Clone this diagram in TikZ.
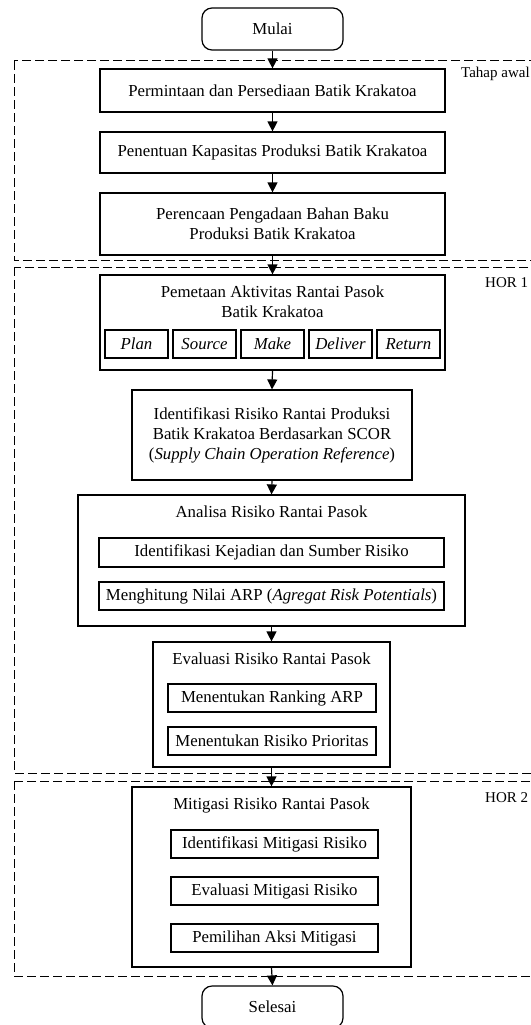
\documentclass[tikz,border=0pt]{standalone}
\usepackage{fontspec}
\setmainfont{Liberation Serif}
\usetikzlibrary{arrows.meta}
\begin{document}
\begin{tikzpicture}[x=1pt,y=-1pt,
  every node/.style={font=\fontsize{16.8}{20}\selectfont},
  box/.style={draw,line width=1.2pt,inner sep=0pt,align=center,fill=none},
  term/.style={box,rounded corners=10pt,minimum width=141pt,minimum height=42pt},
  sub/.style={box,minimum height=28pt},
  ttl/.style={inner sep=0pt,align=center},
  region/.style={draw,line width=1pt,dash pattern=on 9pt off 4pt},
  lbl/.style={inner sep=0pt,anchor=west,font=\fontsize{15}{18}\selectfont},
  flow/.style={line width=1.2pt,-{Triangle[length=10pt,width=10pt]}}]
\useasboundingbox (0,0) rectangle (530,1025);
% dashed regions
\draw[region] (14,61) rectangle (545,260);
\draw[region] (14,267) rectangle (545,773);
\draw[region] (14,781) rectangle (545,976);
\node[lbl] (lawal) at (461,74) {Tahap awal};
\node[lbl] (lhor1) at (485,283) {HOR 1};
\node[lbl] (lhor2) at (485,798) {HOR 2};
% terminals
\node[term] (mulai) at (272.5,29) {Mulai};
\node[term] (sel) at (272.5,1007) {Selesai};
% first stage
\node[box,minimum width=345pt,minimum height=43pt] (b1) at (272.5,90.5) {Permintaan dan Persediaan Batik Krakatoa};
\node[box,minimum width=345pt,minimum height=41pt] (b2) at (272.5,152.5) {Penentuan Kapasitas Produksi Batik Krakatoa};
\node[box,minimum width=345pt,minimum height=62pt] (b3) at (272.5,224) {Perencaan Pengadaan Bahan Baku\\Produksi Batik Krakatoa};
% pemetaan
\node[box,minimum width=345pt,minimum height=95pt] (pem) at (272.5,322.5) {};
\node[ttl] (pemt) at (272.5,302) {Pemetaan Aktivitas Rantai Pasok\\Batik Krakatoa};
\node[sub,minimum width=63pt] (plan) at (136.5,344) {\itshape Plan};
\node[sub,minimum width=63pt] (source) at (204.5,344) {\itshape Source};
\node[sub,minimum width=63pt] (make) at (272.5,344) {\itshape Make};
\node[sub,minimum width=63pt] (deliver) at (340.5,344) {\itshape Deliver};
\node[sub,minimum width=63pt] (return) at (408.5,344) {\itshape Return};
% identifikasi
\node[box,minimum width=280pt,minimum height=90pt] (iden) at (272,435) {Identifikasi Risiko Rantai Produksi\\Batik Krakatoa Berdasarkan SCOR\\(\textit{Supply Chain Operation Reference})};
% analisa
\node[box,minimum width=387pt,minimum height=131pt] (ana) at (271.5,560.5) {};
\node[ttl] (anat) at (271.5,512) {Analisa Risiko Rantai Pasok};
\node[sub,minimum width=345pt,minimum height=29pt] (ana1) at (271.5,552.5) {Identifikasi Kejadian dan Sumber Risiko};
\node[sub,minimum width=345pt] (ana2) at (271.5,596) {Menghitung Nilai ARP (\textit{Agregat Risk Potentials})};
% evaluasi
\node[box,minimum width=237pt,minimum height=125pt] (eva) at (271.5,704.5) {};
\node[ttl] (evat) at (271.5,659) {Evaluasi Risiko Rantai Pasok};
\node[sub,minimum width=208pt] (eva1) at (272,698) {Menentukan Ranking ARP};
\node[sub,minimum width=208pt] (eva2) at (272,741) {Menentukan Risiko Prioritas};
% mitigasi
\node[box,minimum width=279pt,minimum height=180pt] (mit) at (271.5,877) {};
\node[ttl] (mitt) at (271.5,805) {Mitigasi Risiko Rantai Pasok};
\node[sub,minimum width=207pt] (mit1) at (274.5,844) {Identifikasi Mitigasi Risiko};
\node[sub,minimum width=207pt] (mit2) at (274.5,891) {Evaluasi Mitigasi Risiko};
\node[sub,minimum width=207pt] (mit3) at (274.5,938) {Pemilihan Aksi Mitigasi};
% connectors
\draw[flow] (mulai.south) -- (b1.north);
\draw[flow] (b1.south) -- (b2.north);
\draw[flow] (b2.south) -- (b3.north);
\draw[flow] (b3.south) -- (pem.north);
\draw[flow] (pem.south) -- (iden.north);
\draw[flow] (iden.south) -- (ana.north);
\draw[flow] (ana.south) -- (eva.north);
\draw[flow] (eva.south) -- (mit.north);
\draw[flow] (mit.south) -- (sel.north);
\end{tikzpicture}
\end{document}
